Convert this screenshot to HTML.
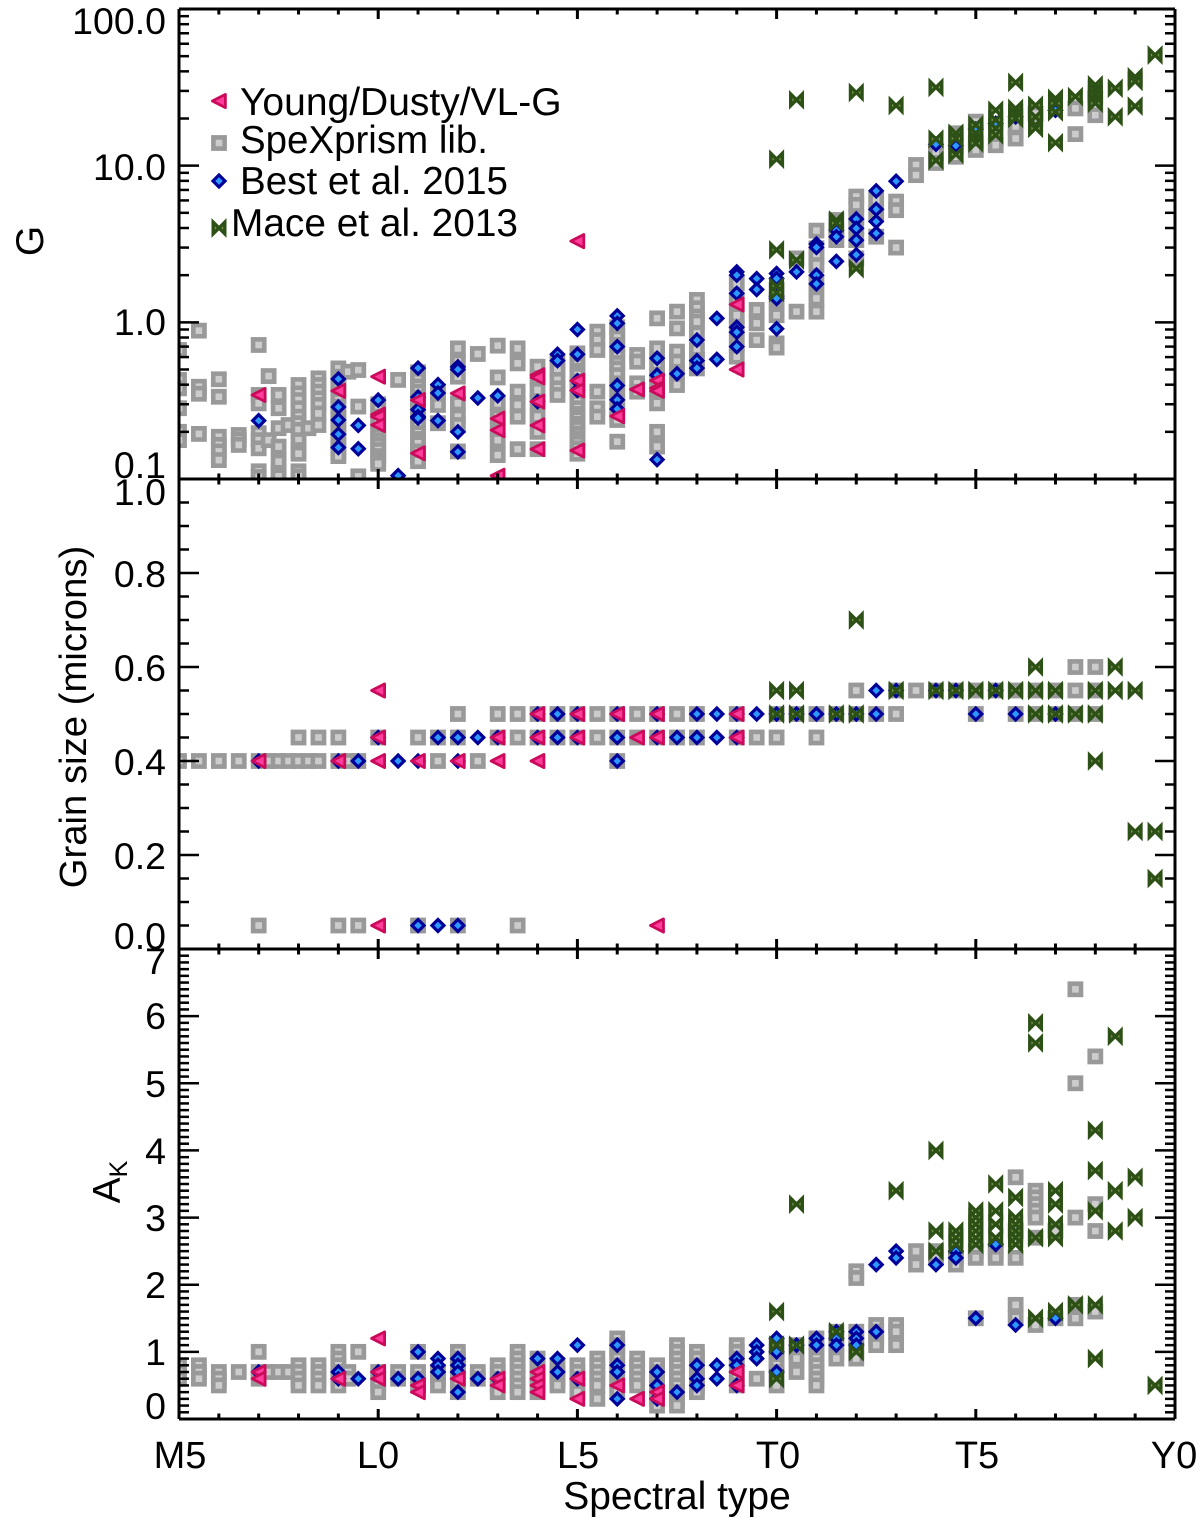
<!DOCTYPE html>
<html lang="en">
<head>
<meta charset="utf-8">
<title>Spectral type trends</title>
<style>
html,body{margin:0;padding:0;background:#fff;}
svg{display:block;}
text{font-family:"Liberation Sans",Arial,sans-serif;font-size:39px;fill:#000;}
.yl{text-anchor:end;font-size:37.5px;}
.xl{text-anchor:middle;font-size:38px;}
.title{text-anchor:middle;font-size:39px;}
</style>
</head>
<body>
<svg id="chart" xmlns="http://www.w3.org/2000/svg" width="1200" height="1526" viewBox="0 0 1200 1526">
  <defs>
    <clipPath id="clip-g"><rect x="179" y="9" width="996" height="470"/></clipPath>
    <clipPath id="clip-grain"><rect x="179" y="479" width="996" height="470"/></clipPath>
    <clipPath id="clip-ak"><rect x="179" y="949" width="996" height="470"/></clipPath>
  </defs>
  <rect x="0" y="0" width="1200" height="1526" fill="#fff"/>
  <g id="marks-g" clip-path="url(#clip-g)"></g>
  <g id="marks-grain" clip-path="url(#clip-grain)"></g>
  <g id="marks-ak" clip-path="url(#clip-ak)"></g>
  <g id="axes"></g>
  <g id="legend">
    <text x="240" y="115">Young/Dusty/VL-G</text>
    <text x="240" y="153" textLength="248" lengthAdjust="spacingAndGlyphs">SpeXprism lib.</text>
    <text x="240" y="194" textLength="268" lengthAdjust="spacingAndGlyphs">Best et al. 2015</text>
    <text x="231" y="236" textLength="287" lengthAdjust="spacingAndGlyphs">Mace et al. 2013</text>
  </g>
  <g>
    <text class="yl" x="166" y="34">100.0</text>
    <text class="yl" x="166" y="180">10.0</text>
    <text class="yl" x="166" y="335">1.0</text>
    <text class="yl" x="166" y="478">0.1</text>
  </g>
  <g>
    <text class="yl" x="166" y="505">1.0</text>
    <text class="yl" x="166" y="587">0.8</text>
    <text class="yl" x="166" y="681">0.6</text>
    <text class="yl" x="166" y="775">0.4</text>
    <text class="yl" x="166" y="869">0.2</text>
    <text class="yl" x="166" y="949">0.0</text>
  </g>
  <g>
    <text class="yl" x="166" y="974">7</text>
    <text class="yl" x="166" y="1029">6</text>
    <text class="yl" x="166" y="1097">5</text>
    <text class="yl" x="166" y="1164">4</text>
    <text class="yl" x="166" y="1231">3</text>
    <text class="yl" x="166" y="1298">2</text>
    <text class="yl" x="166" y="1365">1</text>
    <text class="yl" x="166" y="1419">0</text>
  </g>
  <g>
    <text class="xl" x="180" y="1468">M5</text>
    <text class="xl" x="378" y="1468">L0</text>
    <text class="xl" x="578" y="1468">L5</text>
    <text class="xl" x="778" y="1468">T0</text>
    <text class="xl" x="977" y="1468">T5</text>
    <text class="xl" x="1174" y="1468">Y0</text>
  </g>
  <text class="title" x="677" y="1509">Spectral type</text>
  <text text-anchor="middle" transform="translate(43,241) rotate(-90)">G</text>
  <text text-anchor="middle" style="font-size:38.3px" transform="translate(86,717) rotate(-90)">Grain size (microns)</text>
  <text text-anchor="middle" transform="translate(120,1182) rotate(-90)">A<tspan style="font-size:25px" dy="7">K</tspan></text>
</svg>
<script>
// Spectral type numbering: M5=-5, L0=0, L5=5, T0=10, T5=15, Y0=20
const xMajorTicks = [-5, 0, 5, 10, 15, 20];
const xMinorTicks = [-4,-3,-2,-1,1,2,3,4,6,7,8,9,11,12,13,14,16,17,18,19];

// --- Panel 1: G ---
const gSquareTypes = [-5,-4.5,-4,-3.5,-3,-2.75,-2.5,-2.25,-2,-1.75,-1.5,-1,-0.75,-0.5,0,0.5,1,1.5,2,2.5,3,3.5,4,4.5,5,5.5,6,6.5,7,7.5,8,9,9.5,10,10.5,11,11.5,12,12.5,13,13.5,14,14.5,15,15.5,16,16.5,17.5,18];
const gSquareValues = [
 [.666,.429,.379,.283,.2,.177],[.885,.388,.35,.194],[.433,.335,.186,.165,.15,.132],[.191,.178,.165],
 [.717,.344,.304,.196,.177,.157,.112,.103],[.454,.177],[.344,.283,.211,.161,.129,.109,.104],[.221],
 [.398,.352,.319,.283,.25,.227,.206,.177,.153,.145,.112,.104],[.211],[.439,.398,.361,.327,.297,.262,.221],
 [.508,.45,.41,.379,.35,.319,.29,.262,.24,.216,.195,.177,.16,.15,.14],[.484],[.496,.29,.104],[.3,.275,.25,.23,.206,.19,.177,.165,.153,.14,.132,.125],[.429],
 [.48,.429,.39,.361,.33,.297,.27,.25,.22,.196,.18,.169,.15,.139,.13],[.361,.297,.227],[.682,.561,.45,.304,.25,.221,.15],[.628],
 [.71,.445,.304,.25,.206,.177,.142],[.682,.547,.361,.297,.25,.155],[.521,.439,.37,.312,.25,.2,.155],
 [.561,.496,.429,.379,.344],[.634,.57,.534,.49,.461,.42,.388,.36,.335,.31,.283,.26,.244,.225,.211,.195,.182,.17,.157,.145],[.872,.77,.666,.361,.283,.25],
 [.93,.872,.8,.717,.66,.604,.55,.508,.46,.408,.37,.327,.29,.262,.238,.173],[.619,.561,.408,.361],[1.06,.682,.547,.45,.37,.304,.2,.161],
 [1.17,.915,.65,.561,.484,.398],[1.39,1.23,1.09,1.01,.85,.666,.575,.508],[1.77,1.39,1.11,.915,.734,.604],
 [1.2,.985,.77],[1.61,1.39,1.11,.734,.69],[2.56,1.17],[3.85,2.97,2.62,2.32,1.77,1.42,1.17],[4.5,3.88,3.35],
 [6.35,5.62,4.73,4.08,3.35,2.56],[6.04,4.97,3.52],[5.9,5.2,3.0],[10.1,8.7],[12,10.4],[16.1,13.2,11.4],
 [19.1,13.9,12.6],[13.5],[17.8,14.9],[21.5],[23.2,15.9],[26.9,21]
];
const gDiamondTypes = [-3,-1,-0.5,0,0.5,1,1.5,2,2.5,3,4,4.5,5,6,7,7.5,8,8.5,9,9.5,10,10.5,11,11.5,12,12.5,13,14,14.5,15,15.5,16,17];
const gDiamondValues = [
 [.236],[.435,.288,.238,.193,.159],[.22,.156],[.319],[.105],[.51,.333,.277,.25,.245],[.4,.354,.236],[.52,.5,.2,.149],[.329],[.34],
 [.312],[.625,.57],[.9,.625,.424,.368],[1.1,.985,.7,.395,.32,.28],[.59,.46,.133],[.47],
 [.77,.57,.51],[1.06,.58],[2.1,2.0,1.53,.93,.865,.7],[1.9,1.62],[2.05,1.9,1.47,1.42,.91],[2.1],[3.16,3.01,2.0,1.76],[3.88,3.52,2.45],[4.57,3.98,3.35,2.7],[6.9,5.27,4.4,3.7],[7.95],[13.7],[13.4],[17.1],[18.6],[20.5],[22.6]
];
const gTriangleTypes = [-3,-1,0,1,2,3,4,5,6,6.5,7,9];
const gTriangleValues = [
 [.344],[.365],[.45,.258,.25,.221],[.319,.146],[.352],[.243,.205,.105],[.46,.445,.312,.22,.155],[3.3,.424,.368,.152],[.252],[.373],[.425,.38,.365],[1.3,.5]
];
const gBowtieTypes = [10,10.5,11.5,12,13,14,14.5,15,15.5,16,16.5,17,17.5,18,18.5,19,19.5];
const gBowtieValues = [
 [11,2.9,1.7,1.55],[26.3,2.5],[4.5,4.3],[29.3,2.2],[24.2],[31.6,14.8,10.8],[16.1,14.9,11.8],[18.2,16.1,14.9,13.9],
 [22.6,19.6,17.3,15.7],[34,23.2,21.5,20],[24.3,20.5,18.2,17.3],[26.9,25,22,14],[27.6],[32.8,30.4,28.3,26.3,25],[31.2,20.5],[36.9,34.5,24],[50.8]
];
const gMajorTicks = [100, 10, 1, 0.1];
const gMinorTicks = [90,80,70,60,50,40,30,20,9,8,7,6,5,4,3,2,.9,.8,.7,.6,.5,.4,.3,.2];

// --- Panel 2: grain size ---
const grainSquareTypes = [-5,-4.5,-4,-3.5,-3,-2.75,-2.5,-2.25,-2,-1.75,-1.5,-1,-0.75,-0.5,0,1,1.5,2,2.5,3,3.5,4,4.5,5,5.5,6,6.5,7,7.5,8,9,9.5,10,10.5,11,11.5,12,12.5,13,13.5,14,14.5,15,15.5,16,16.5,17,17.5,18];
const grainSquareValues = [
 [.4],[.4],[.4],[.4],[.4,.05],[.4],[.4],[.4],[.45,.4],[.4],[.45,.4],[.45,.4,.05],[.4],[.4,.05],[.45],[.45,.05],[.45,.4],[.5,.45,.05],[.4],[.5,.45],[.5,.45,.05],[.5,.45],[.5,.45],[.5,.45],[.5,.45],[.5,.45,.4],[.5,.45],[.5,.45],[.5,.45],[.5,.45],[.5,.45],[.45],[.5,.45],[.5],[.5,.45],[.5],[.55,.5],[.5],[.55,.5],[.55],[.55],[.55],[.55,.5],[.55],[.55,.5],[.55,.5],[.55,.5],[.6,.55,.5],[.6,.55,.5]
];
const grainDiamondTypes = [-3,-1,-0.5,0,0.5,1,1.5,2,2.5,3,4,4.5,5,6,7,7.5,8,8.5,9,9.5,10,10.5,11,11.5,12,12.5,13,14,14.5,15,15.5,16,17];
const grainDiamondValues = [
 [.4],[.4],[.4],[.45],[.4],[.4,.05],[.45,.05],[.45,.4,.05],[.45],[.45],[.5,.45],[.5,.45],[.5,.45],[.5,.45,.4],[.5,.45],[.45],[.5,.45],[.5,.45],[.5,.45],[.5],[.5],[.5],[.5],[.5],[.5],[.55,.5],[.55],[.55],[.55],[.5],[.55],[.5],[.5]
];
const grainTriangleTypes = [-3,-1,0,1,2,3,4,5,6,6.5,7,9];
const grainTriangleValues = [[.4],[.4],[.55,.45,.4,.05],[.4],[.4],[.45,.4],[.5,.45,.4],[.5,.45],[.5],[.45],[.5,.45,.05],[.5,.45]];
const grainBowtieTypes = [10,10.5,11.5,12,13,14,14.5,15,15.5,16,16.5,17,17.5,18,18.5,19,19.5];
const grainBowtieValues = [[.55,.5],[.55,.5],[.5],[.7,.5],[.55],[.55],[.55],[.55],[.55],[.55],[.6,.55,.5],[.55,.5],[.5],[.55,.5,.4],[.6,.55],[.55,.25],[.25,.15]];
const grainMajorTicks = [1,.8,.6,.4,.2,0];
const grainMinorTicks = [.95,.9,.85,.75,.7,.65,.55,.5,.45,.35,.3,.25,.15,.1,.05];

// --- Panel 3: A_K ---
const akSquareTypes = [-5,-4.5,-4,-3.5,-3,-2.75,-2.5,-2.25,-2,-1.5,-1,-0.75,-0.5,0,0.5,1,1.5,2,2.5,3,3.5,4,4.5,5,5.5,6,6.5,7,7.5,8,9,9.5,10,10.5,11,11.5,12,12.5,13,13.5,14,14.5,15,15.5,16,16.5,17,17.5,18];
const akSquareValues = [
 [.8,.7,.6],[.8,.7,.6],[.7,.6,.5],[.7],[1,.7,.6],[.7],[.7],[.7],[.8,.7,.6,.5],[.8,.7,.6,.5],[1,.9,.8,.7,.6,.5],[.7,.6],[1],[.7,.6,.5,.4],[.7,.6],[1,.7,.6,.5],[.7,.6,.5],[1,.9,.8,.7,.6,.5,.4],[.7,.6],[.8,.7,.6,.5,.4],[1,.9,.8,.7,.6,.5,.4],[.9,.8,.7,.6,.5,.4],[.8,.7,.6,.5],[.8,.7,.6,.5,.4],[.9,.8,.7,.6,.5,.3],[1.2,1.1,1,.9,.8,.7,.6,.5,.4],[.9,.8,.7,.6,.5],[.8,.7,.6,.5,.4,.3,.2],[1.1,1,.9,.8,.7,.6,.5,.4,.3,.2],[1,.9,.8,.7,.6,.5,.4],[1.1,1,.9,.8,.6,.5],[.6],[1.1,1,.9,.8,.7,.6,.5],[1.1,1,.9,.7],[1.2,1.1,1,.9,.8,.7,.6,.5],[1.3,1.2,1.1,1,.9],[2.2,2.1,1.3,1.2,1.1,1,.9],[1.4,1.3,1.2,1.1],[1.4,1.3,1.1],[2.5,2.3],[2.5,2.4],[2.4,2.3],[2.5,2.4,1.5],[2.5,2.4],[3.6,2.8,2.4,1.7,1.5],[3.4,3.3,3.2,3.1,3,2.7,1.4],[2.8,1.5],[6.4,5,3,1.7,1.5],[5.4,3.2,2.8,1.6]
];
const akDiamondTypes = [-3,-1,-0.5,0,0.5,1,1.5,2,2.5,3,4,4.5,5,6,7,7.5,8,8.5,9,9.5,10,10.5,11,11.5,12,12.5,13,14,14.5,15,15.5,16,17];
const akDiamondValues = [
 [.7],[.7,.6],[.6],[.7],[.6],[1,.6],[.9,.8,.7],[.9,.8,.7,.4],[.6],[.6],[.9],[.9,.7],[1.1,.6],[1.1,.8,.7,.3],[.7,.5,.3],[.4],[.8,.6,.5],[.8,.6],[.9,.8,.5],[1.1,1,.9],[1.2,1,.7],[1.1],[1.2,1.1],[1.3,1.2,1.1],[1.3,1.2,1.1],[2.3,1.3],[2.5,2.4],[2.3],[2.5,2.4],[1.5],[2.6],[1.4],[1.5]
];
const akTriangleTypes = [-3,-1,0,1,2,3,4,5,6,6.5,7,9];
const akTriangleValues = [[.7,.6],[.6],[1.2,.7,.6],[.5,.4],[.6],[.6,.5],[.7,.6,.5,.4],[.6,.3],[.5],[.3],[.4,.3],[.7,.5]];
const akBowtieTypes = [10,10.5,11.5,12,13,14,14.5,15,15.5,16,16.5,17,17.5,18,18.5,19,19.5];
const akBowtieValues = [[1.6,1.1,.6],[3.2,1.1],[1.3],[1],[3.4],[4,2.8,2.5],[2.8,2.7,2.6],[3.1,3,2.9,2.8,2.7,2.6],[3.5,3.1,2.9,2.7],[3.3,3,2.9,2.8,2.7,2.6],[5.9,5.6,2.7,1.5],[3.4,3.2,2.9,2.7,1.6],[1.7],[4.3,3.7,3.1,1.7,.9],[5.7,3.4,2.8],[3.6,3],[.5]];
const akMajorTicks = [7,6,5,4,3,2,1,0];
const akMinorTicks = [6.9,6.8,6.7,6.6,6.5,6.4,6.3,6.2,6.1,5.9,5.8,5.7,5.6,5.5,5.4,5.3,5.2,5.1,4.9,4.8,4.7,4.6,4.5,4.4,4.3,4.2,4.1,3.9,3.8,3.7,3.6,3.5,3.4,3.3,3.2,3.1,2.9,2.8,2.7,2.6,2.5,2.4,2.3,2.2,2.1,1.9,1.8,1.7,1.6,1.5,1.4,1.3,1.2,1.1,.9,.8,.7,.6,.5,.4,.3,.2,.1];

const SVG_NS = 'http://www.w3.org/2000/svg';
const PLOT_LEFT = 179, PLOT_RIGHT = 1175;
const PANEL_G = {top: 9, bottom: 479};
const PANEL_GRAIN = {top: 479, bottom: 949};
const PANEL_AK = {top: 949, bottom: 1419};

function xScale(t) { return PLOT_LEFT + (t + 5) * (PLOT_RIGHT - PLOT_LEFT) / 25; }
function yG(v) { return PANEL_G.bottom - (Math.log10(v) + 1) * (PANEL_G.bottom - PANEL_G.top) / 3; }
function yGrain(v) { return PANEL_GRAIN.top + (1 - v) * (PANEL_GRAIN.bottom - PANEL_GRAIN.top); }
function yAk(v) { return PANEL_AK.bottom - v * (PANEL_AK.bottom - PANEL_AK.top) / 7; }

function makeShape(shape, cx, cy) {
  let el;
  if (shape === 'square') {
    el = document.createElementNS(SVG_NS, 'rect');
    el.setAttribute('x', cx - 5.6);
    el.setAttribute('y', cy - 5.6);
    el.setAttribute('width', 11.2);
    el.setAttribute('height', 11.2);
    el.setAttribute('fill', '#cccccc');
    el.setAttribute('stroke', '#999999');
    el.setAttribute('stroke-width', 4.6);
  } else {
    el = document.createElementNS(SVG_NS, 'polygon');
    let pts, fill, stroke, sw, join;
    if (shape === 'diamond') {
      pts = [[0,-6],[6,0],[0,6],[-6,0]]; fill = '#2b99ff'; stroke = '#000099'; sw = 3.2; join = 'miter';
    } else if (shape === 'triangle') {
      pts = [[-6.6,0],[6.4,-6.6],[6.4,6.6]]; fill = '#ff3d9d'; stroke = '#cc0a5c'; sw = 2.8; join = 'round';
    } else {
      pts = [[-5.8,-5.8],[5.8,5.8],[5.8,-5.8],[-5.8,5.8]]; fill = '#7d9c4f'; stroke = '#2d5016'; sw = 3.4; join = 'miter';
    }
    el.setAttribute('points', pts.map(function (p) { return (cx + p[0]) + ',' + (cy + p[1]); }).join(' '));
    el.setAttribute('fill', fill);
    el.setAttribute('stroke', stroke);
    el.setAttribute('stroke-width', sw);
    el.setAttribute('stroke-linejoin', join);
  }
  return el;
}

function drawSeries(parent, types, values, yFn, shape) {
  types.forEach(function (t, i) {
    values[i].forEach(function (v) {
      const el = makeShape(shape, xScale(t), yFn(v));
      
      
      parent.appendChild(el);
    });
  });
}

const marksG = document.getElementById('marks-g');
drawSeries(marksG, gSquareTypes, gSquareValues, yG, 'square');
drawSeries(marksG, gDiamondTypes, gDiamondValues, yG, 'diamond');
drawSeries(marksG, gTriangleTypes, gTriangleValues, yG, 'triangle');
drawSeries(marksG, gBowtieTypes, gBowtieValues, yG, 'bowtie');

const marksGrain = document.getElementById('marks-grain');
drawSeries(marksGrain, grainSquareTypes, grainSquareValues, yGrain, 'square');
drawSeries(marksGrain, grainDiamondTypes, grainDiamondValues, yGrain, 'diamond');
drawSeries(marksGrain, grainTriangleTypes, grainTriangleValues, yGrain, 'triangle');
drawSeries(marksGrain, grainBowtieTypes, grainBowtieValues, yGrain, 'bowtie');

const marksAk = document.getElementById('marks-ak');
drawSeries(marksAk, akSquareTypes, akSquareValues, yAk, 'square');
drawSeries(marksAk, akDiamondTypes, akDiamondValues, yAk, 'diamond');
drawSeries(marksAk, akTriangleTypes, akTriangleValues, yAk, 'triangle');
drawSeries(marksAk, akBowtieTypes, akBowtieValues, yAk, 'bowtie');

const axes = document.getElementById('axes');
function line(x1, y1, x2, y2, w) {
  const el = document.createElementNS(SVG_NS, 'line');
  el.setAttribute('x1', x1);
  el.setAttribute('y1', y1);
  el.setAttribute('x2', x2);
  el.setAttribute('y2', y2);
  el.setAttribute('stroke', '#000');
  el.setAttribute('stroke-width', w);
  
  
  axes.appendChild(el);
}
function drawAxes(panel, yFn, majors, minors) {
  line(PLOT_LEFT, panel.top, PLOT_RIGHT, panel.top, 3);
  line(PLOT_LEFT, panel.bottom, PLOT_RIGHT, panel.bottom, 3);
  line(PLOT_LEFT, panel.top, PLOT_LEFT, panel.bottom, 3);
  line(PLOT_RIGHT, panel.top, PLOT_RIGHT, panel.bottom, 3);
  xMajorTicks.forEach(function (t) {
    line(xScale(t), panel.top, xScale(t), panel.top + 10, 3);
    line(xScale(t), panel.bottom, xScale(t), panel.bottom - 10, 3);
  });
  xMinorTicks.forEach(function (t) {
    line(xScale(t), panel.top, xScale(t), panel.top + 5.5, 3);
    line(xScale(t), panel.bottom, xScale(t), panel.bottom - 5.5, 3);
  });
  majors.forEach(function (v) {
    line(PLOT_LEFT, yFn(v), PLOT_LEFT + 20, yFn(v), 2.5);
    line(PLOT_RIGHT, yFn(v), PLOT_RIGHT - 20, yFn(v), 2.5);
  });
  minors.forEach(function (v) {
    line(PLOT_LEFT, yFn(v), PLOT_LEFT + 10, yFn(v), 2.5);
    line(PLOT_RIGHT, yFn(v), PLOT_RIGHT - 10, yFn(v), 2.5);
  });
}
drawAxes(PANEL_G, yG, gMajorTicks, gMinorTicks);
drawAxes(PANEL_GRAIN, yGrain, grainMajorTicks, grainMinorTicks);
drawAxes(PANEL_AK, yAk, akMajorTicks, akMinorTicks);

const legend = document.getElementById('legend');
const legendShapes = ['triangle', 'square', 'diamond', 'bowtie'];
const legendRows = [101, 143, 181, 228];
legendShapes.forEach(function (s, i) {
  const el = makeShape(s, 219, legendRows[i]);
  
  
  legend.appendChild(el);
});
</script>
</body>
</html>
